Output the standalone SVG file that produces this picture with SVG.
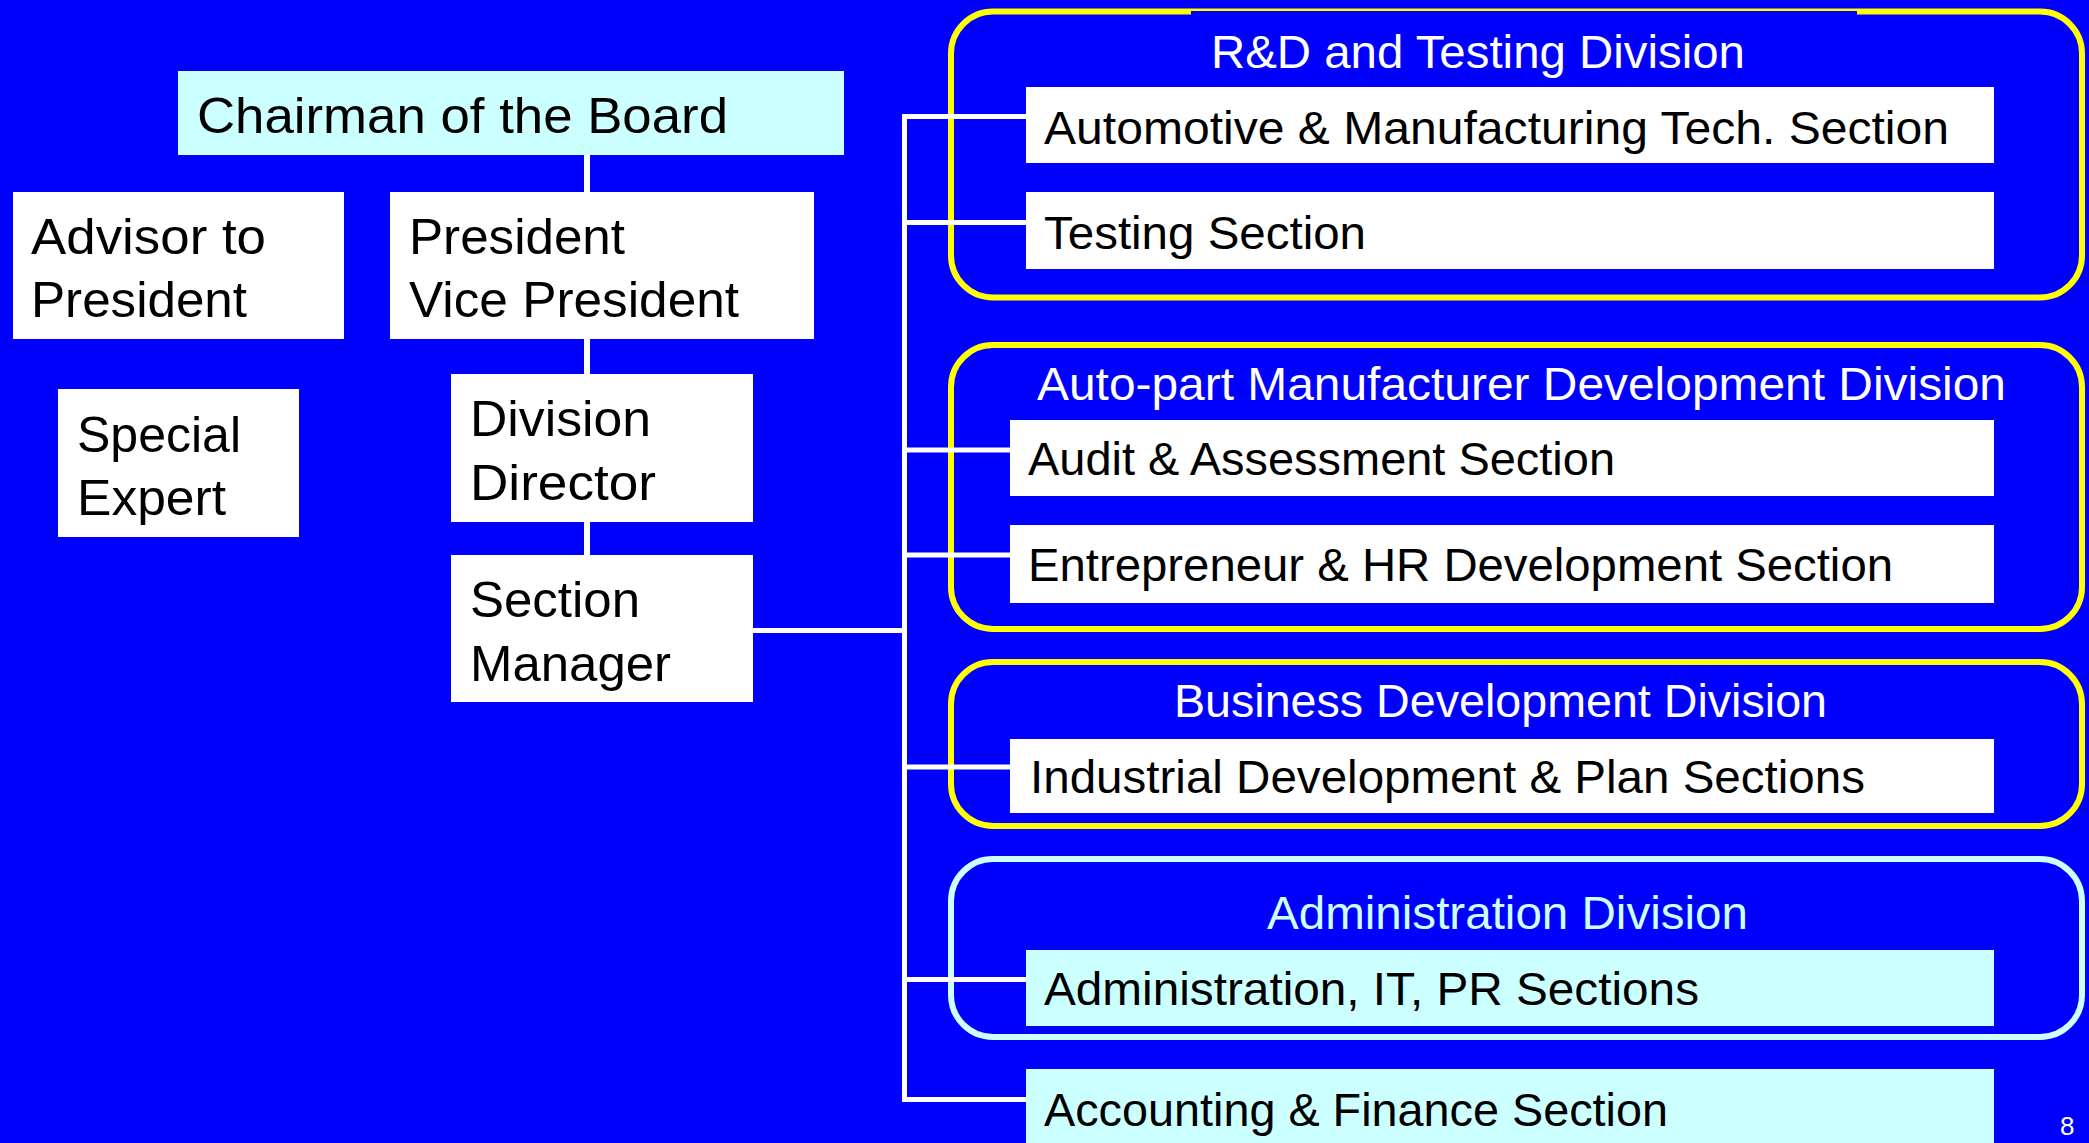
<svg xmlns="http://www.w3.org/2000/svg" width="2089" height="1143" viewBox="0 0 2089 1143">
<style>
.bg{fill:#0000FF}
.w{fill:#FFFFFF}
.c{fill:#CCFFFF}
.div{fill:#0000FF;stroke:#FFFF00;stroke-width:6}
.divc{fill:#0000FF;stroke:#CCFFFF;stroke-width:6}
.t{font-family:"Liberation Sans",Arial,sans-serif;fill:#000000}
.l{font-size:50px}
.r{font-size:47px}
.h{font-family:"Liberation Sans",Arial,sans-serif;font-size:46px;fill:#FFFFFF}
.hc{fill:#CCFFFF}
.ln{fill:none;stroke:#FFFFFF;stroke-width:5}
.lv{fill:none;stroke:#FFFFFF;stroke-width:6}
</style>
<rect class="bg" x="0" y="0" width="2089" height="1143"/>

<g id="div-rd">
<rect class="div" x="951" y="11.5" width="1131" height="286" rx="42" ry="42"/>
<rect class="bg" x="1191" y="11" width="666" height="76"/>
<text class="h" x="1211" y="68" textLength="534" lengthAdjust="spacingAndGlyphs">R&amp;D and Testing Division</text>
</g>
<g id="div-auto">
<rect class="div" x="951" y="345" width="1131" height="284" rx="42" ry="42"/>
<text class="h" x="1037" y="400" textLength="969" lengthAdjust="spacingAndGlyphs">Auto-part Manufacturer Development Division</text>
</g>
<g id="div-biz">
<rect class="div" x="951" y="662" width="1131" height="164" rx="42" ry="42"/>
<text class="h" x="1174" y="717" textLength="653" lengthAdjust="spacingAndGlyphs">Business Development Division</text>
</g>
<g id="div-admin">
<rect class="divc" x="951" y="859" width="1131" height="178" rx="42" ry="42"/>
<text class="h hc" x="1267" y="929" textLength="481" lengthAdjust="spacingAndGlyphs">Administration Division</text>
</g>

<g id="connectors">
<line class="lv" x1="587" y1="154" x2="587" y2="193"/>
<line class="lv" x1="587" y1="338" x2="587" y2="375"/>
<line class="lv" x1="587" y1="521" x2="587" y2="556"/>
<line class="ln" x1="752" y1="630.5" x2="904.5" y2="630.5"/>
<path class="ln" d="M1027 116.5 H904.5 V1099.5 H1027"/>
<line class="ln" x1="904.5" y1="222.5" x2="1027" y2="222.5"/>
<line class="ln" x1="904.5" y1="450" x2="1011" y2="450"/>
<line class="ln" x1="904.5" y1="555" x2="1011" y2="555"/>
<line class="ln" x1="904.5" y1="767" x2="1011" y2="767"/>
<line class="ln" x1="904.5" y1="979.5" x2="1027" y2="979.5"/>
</g>

<g id="chairman">
<rect class="c" x="178" y="71" width="666" height="84"/>
<text class="t l" x="197" y="133" textLength="531" lengthAdjust="spacingAndGlyphs">Chairman of the Board</text>
</g>
<g id="advisor">
<rect class="w" x="13" y="192" width="331" height="147"/>
<text class="t l" x="31" y="254" textLength="235" lengthAdjust="spacingAndGlyphs">Advisor to</text>
<text class="t l" x="31" y="317" textLength="216" lengthAdjust="spacingAndGlyphs">President</text>
</g>
<g id="president">
<rect class="w" x="390" y="192" width="424" height="147"/>
<text class="t l" x="409" y="254" textLength="216" lengthAdjust="spacingAndGlyphs">President</text>
<text class="t l" x="409" y="317" textLength="330" lengthAdjust="spacingAndGlyphs">Vice President</text>
</g>
<g id="special-expert">
<rect class="w" x="58" y="389" width="241" height="148"/>
<text class="t l" x="77" y="452" textLength="164" lengthAdjust="spacingAndGlyphs">Special</text>
<text class="t l" x="77" y="515" textLength="149" lengthAdjust="spacingAndGlyphs">Expert</text>
</g>
<g id="division-director">
<rect class="w" x="451" y="374" width="302" height="148"/>
<text class="t l" x="470" y="436" textLength="181" lengthAdjust="spacingAndGlyphs">Division</text>
<text class="t l" x="470" y="500" textLength="186" lengthAdjust="spacingAndGlyphs">Director</text>
</g>
<g id="section-manager">
<rect class="w" x="451" y="555" width="302" height="147"/>
<text class="t l" x="470" y="617" textLength="170" lengthAdjust="spacingAndGlyphs">Section</text>
<text class="t l" x="470" y="681" textLength="201" lengthAdjust="spacingAndGlyphs">Manager</text>
</g>

<g id="sec-automotive">
<rect class="w" x="1026" y="87" width="968" height="76"/>
<text class="t r" x="1044" y="144" textLength="905" lengthAdjust="spacingAndGlyphs">Automotive &amp; Manufacturing Tech. Section</text>
</g>
<g id="sec-testing">
<rect class="w" x="1026" y="192" width="968" height="77"/>
<text class="t r" x="1044" y="249" textLength="322" lengthAdjust="spacingAndGlyphs">Testing Section</text>
</g>
<g id="sec-audit">
<rect class="w" x="1010" y="420" width="984" height="76"/>
<text class="t r" x="1028" y="475" textLength="587" lengthAdjust="spacingAndGlyphs">Audit &amp; Assessment Section</text>
</g>
<g id="sec-entrepreneur">
<rect class="w" x="1010" y="525" width="984" height="78"/>
<text class="t r" x="1028" y="581" textLength="865" lengthAdjust="spacingAndGlyphs">Entrepreneur &amp; HR Development Section</text>
</g>
<g id="sec-industrial">
<rect class="w" x="1010" y="739" width="984" height="74"/>
<text class="t r" x="1030" y="793" textLength="835" lengthAdjust="spacingAndGlyphs">Industrial Development &amp; Plan Sections</text>
</g>
<g id="sec-admin">
<rect class="c" x="1026" y="950" width="968" height="76"/>
<text class="t r" x="1044" y="1005" textLength="655" lengthAdjust="spacingAndGlyphs">Administration, IT, PR Sections</text>
</g>
<g id="sec-accounting">
<rect class="c" x="1026" y="1069" width="968" height="80"/>
<text class="t r" x="1044" y="1126" textLength="624" lengthAdjust="spacingAndGlyphs">Accounting &amp; Finance Section</text>
</g>

<text x="2060" y="1135" style="font-family:'Liberation Sans',Arial,sans-serif;font-size:26px;fill:#FFFFFF">8</text>
</svg>
